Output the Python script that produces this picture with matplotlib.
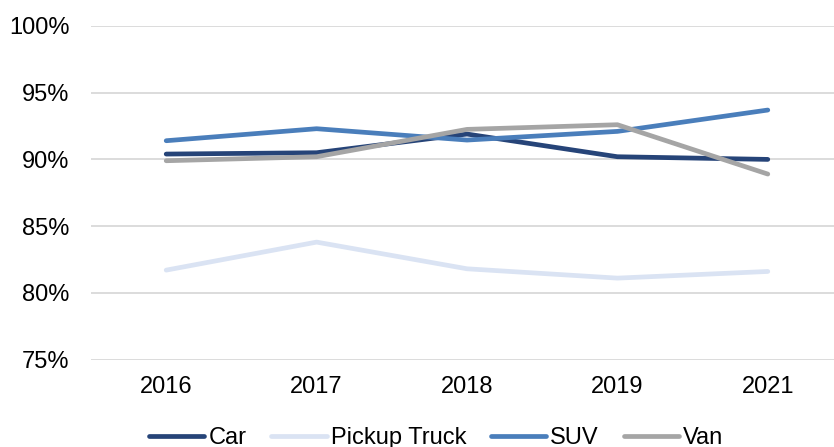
import matplotlib.pyplot as plt
from matplotlib.ticker import FuncFormatter

plt.rcParams['font.family'] = ['Liberation Sans', 'DejaVu Sans']

years = ['2016', '2017', '2018', '2019', '2021']
car = [90.4, 90.5, 91.9, 90.2, 90.0]
pickup = [81.7, 83.8, 81.8, 81.1, 81.6]
suv = [91.4, 92.3, 91.45, 92.1, 93.7]
van = [89.9, 90.2, 92.25, 92.6, 88.9]

series = [
    ('Car', car, '#264478'),
    ('Pickup Truck', pickup, '#dae3f3'),
    ('SUV', suv, '#4a7ebb'),
    ('Van', van, '#a5a5a5'),
]

fig = plt.figure(figsize=(8.34, 4.47), dpi=100)
ax = fig.add_axes([91 / 834, 87.5 / 447, 752 / 834, 333.5 / 447])

x = range(len(years))
for name, vals, col in series:
    ax.plot(x, vals, color=col, lw=3.4, solid_capstyle='round',
            solid_joinstyle='round', label=name)

ax.set_ylim(75, 100)
ax.set_xlim(-0.5, len(years) - 0.5)
ax.set_yticks([75, 80, 85, 90, 95, 100])
ax.yaxis.set_major_formatter(FuncFormatter(lambda v, p: f'{v:.0f}%'))
ax.set_xticks(list(x))
ax.set_xticklabels(years)
ax.grid(axis='y', color='#d9d9d9', lw=1.3)
ax.set_axisbelow(True)
for s in ax.spines.values():
    s.set_visible(False)
ax.tick_params(axis='y', length=0, pad=15.5, labelsize=17)
ax.tick_params(axis='x', length=0, pad=12, labelsize=17)

fig.legend(loc='center', bbox_to_anchor=(0.523, 9 / 447), ncol=4, frameon=False,
           fontsize=17, handlelength=2.35, handletextpad=0.17, columnspacing=1.05,
           borderpad=0)

fig.savefig('out.png', dpi=100)
